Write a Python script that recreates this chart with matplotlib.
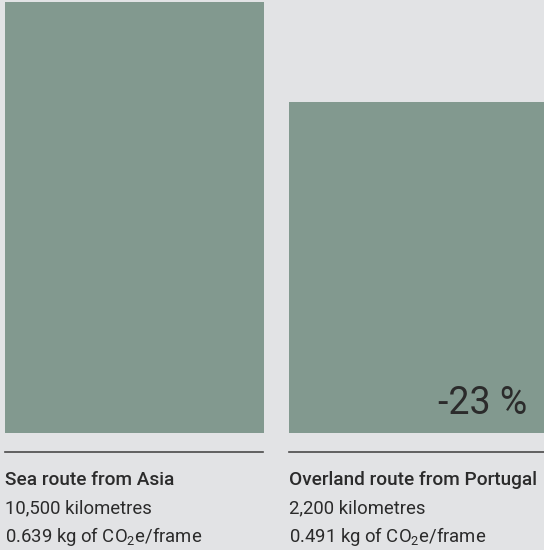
import matplotlib.pyplot as plt

plt.rcParams['font.family'] = ['Roboto', 'DejaVu Sans']
plt.rcParams['mathtext.fontset'] = 'custom'
plt.rcParams['mathtext.rm'] = 'Roboto'

# CO2e per frame for each route
routes = ['Sea route from Asia', 'Overland route from Portugal']
distances = ['10,500 kilometres', '2,200 kilometres']
co2 = [0.639, 0.491]
change_label = '-23 %'

bg = '#e2e3e5'
bar_color = '#82998f'
text_color = '#2b2b2b'

W, H = 544, 550
fig = plt.figure(figsize=(W / 100, H / 100), dpi=100, facecolor=bg)

# bar area
ax = fig.add_axes([5 / W, 117 / H, 1 - 5 / W, 431 / H])
ax.set_facecolor(bg)
width = 259 / 284
ax.bar(range(len(co2)), co2, width=width, color=bar_color)
ax.set_xlim(-width / 2, -width / 2 + (W - 5) / 284)
ax.set_ylim(0, max(co2))
ax.axis('off')

# percentage change inside the second bar
ax.text(1 + width / 2 - 21 / 284, 0.028, change_label, ha='right', va='baseline',
        fontsize=27, fontweight='normal', color=text_color)

# captions under each bar
lefts = [5, 289]
for i, x in enumerate(lefts):
    fig.add_artist(plt.Line2D([x / W, min(x + 258, W) / W], [98 / H, 98 / H],
                              color='#4a4a4a', lw=1.2))
    fig.text(x / W, 65 / H, routes[i], ha='left', va='baseline',
             fontsize=13.7, fontweight='medium', color=text_color)
    fig.text(x / W, 37 / H, distances[i], ha='left', va='baseline',
             fontsize=13.3, color=text_color)
    fig.text(x / W, 8 / H, f'{co2[i]:.3f} kg of CO$_2$e/frame', ha='left',
             va='baseline', fontsize=13.3, color=text_color)

fig.savefig('out.png', dpi=100, facecolor=bg)
